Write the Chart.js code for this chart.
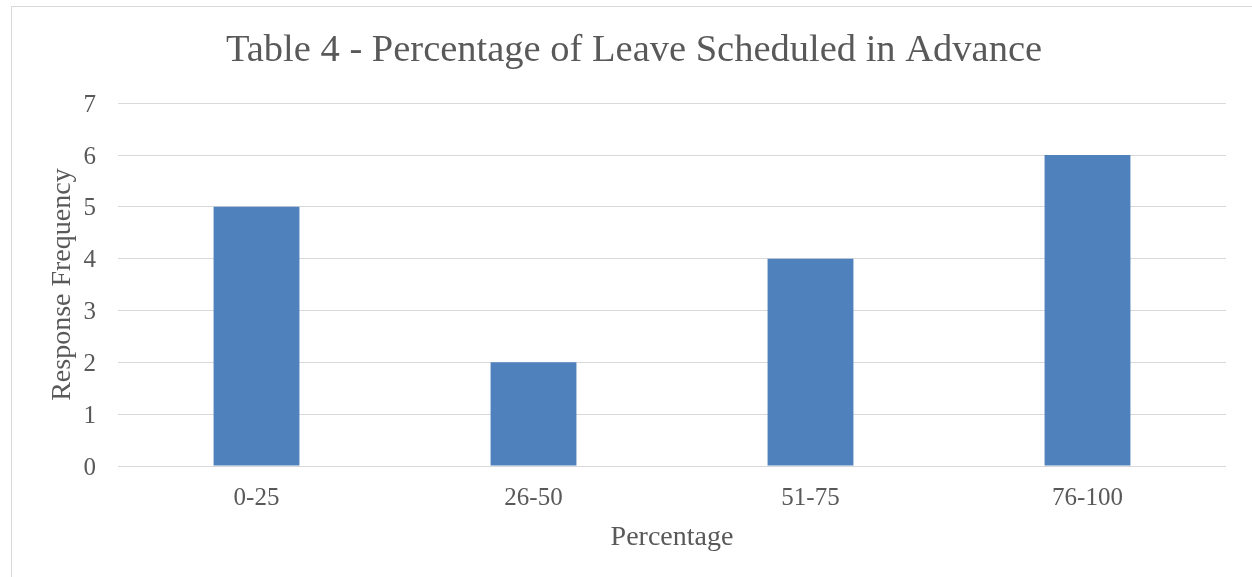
<!DOCTYPE html>
<html>
<head>
<meta charset="utf-8">
<script src="https://cdn.jsdelivr.net/npm/chart.js@4.4.1/dist/chart.umd.min.js"></script>
<style>
  html, body { margin: 0; padding: 0; background: #ffffff; overflow: hidden; width: 1252px; height: 577px; }
  #frame {
    position: absolute; left: 11px; top: 6px;
    width: 1244px; height: 580px;
    border: 1px solid #d9d9d9;
    background: #ffffff;
  }
  #wrap { position: absolute; left: 0; top: 0; width: 1244px; height: 570px; }
</style>
</head>
<body>
<div id="frame"><div id="wrap"><canvas id="chart"></canvas></div></div>
<script>
// Leave scheduling survey: how much of their leave respondents book ahead
const chartTitle = 'Table 4 - Percentage of Leave Scheduled in Advance';
const categories = ['0-25', '26-50', '51-75', '76-100'];
const responseCounts = [5, 2, 4, 6];
const xAxisTitle = 'Percentage';
const yAxisTitle = 'Response Frequency';
const yMin = 0, yMax = 7, yStep = 1;

const textColor = '#595959';
const gridColor = '#d9d9d9';
const barColor = '#4f81bd';
const serif = "'Liberation Serif', 'Times New Roman', serif";

new Chart(document.getElementById('chart'), {
  type: 'bar',
  data: {
    labels: categories,
    datasets: [{
      label: yAxisTitle,
      data: responseCounts,
      backgroundColor: barColor,
      borderWidth: 0,
      barPercentage: 1,
      categoryPercentage: 0.31
    }]
  },
  options: {
    responsive: true,
    maintainAspectRatio: false,
    animation: false,
    layout: { padding: { left: 30, right: 30, top: 0, bottom: 0 } },
    plugins: {
      legend: { display: false },
      tooltip: { enabled: false },
      title: {
        display: true,
        text: chartTitle,
        color: textColor,
        font: { family: serif, size: 38.5, weight: 'normal' },
        padding: { top: 21, bottom: 29 }
      }
    },
    scales: {
      x: {
        afterFit: (scale) => { scale.height = 111; },
        grid: { display: false, drawTicks: false },
        border: { display: false },
        ticks: {
          color: textColor,
          font: { family: serif, size: 25 },
          padding: 17
        },
        title: {
          display: true,
          text: xAxisTitle,
          color: textColor,
          font: { family: serif, size: 28 },
          padding: { top: 0, bottom: 23 }
        }
      },
      y: {
        min: yMin,
        max: yMax,
        afterFit: (scale) => { scale.width = 76; },
        grid: { color: gridColor, lineWidth: 1, drawTicks: false },
        border: { display: false },
        ticks: {
          stepSize: yStep,
          color: textColor,
          font: { family: serif, size: 25 },
          padding: 22,
          labelOffset: 2
        },
        title: {
          display: true,
          text: yAxisTitle,
          color: textColor,
          font: { family: serif, size: 28 },
          padding: { top: 4, bottom: 0 }
        }
      }
    }
  }
});
</script>
</body>
</html>
